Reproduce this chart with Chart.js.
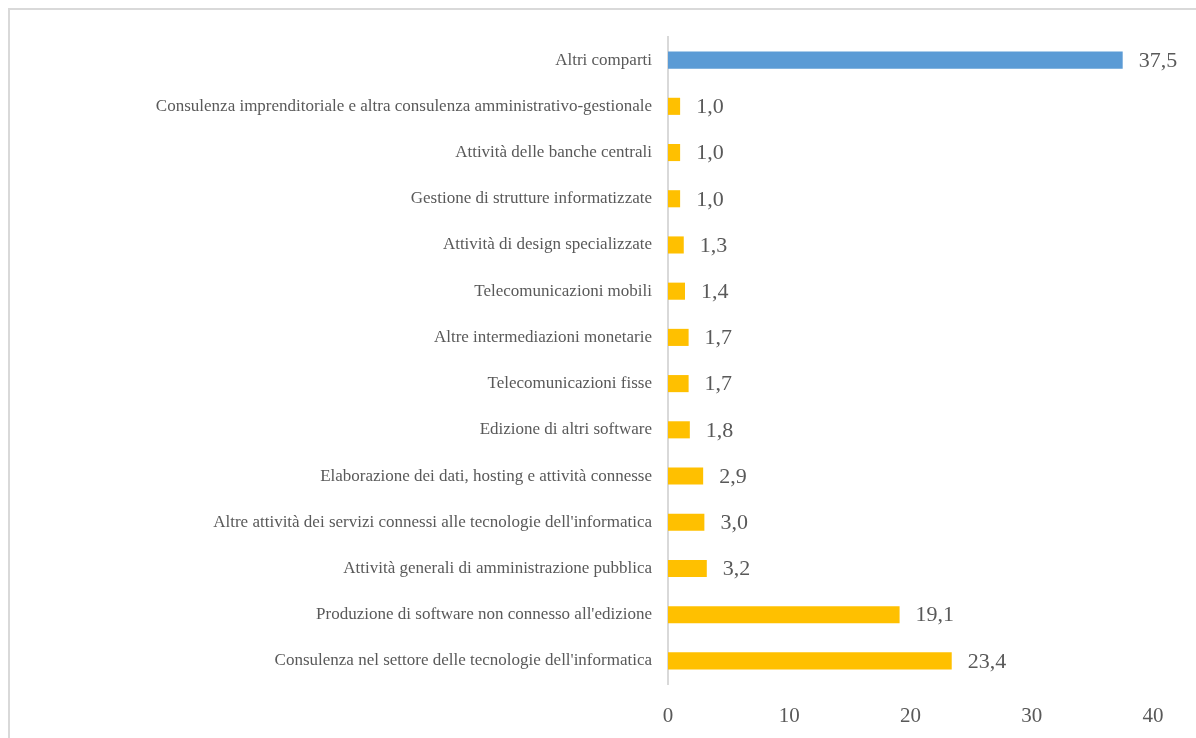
<!DOCTYPE html>
<html>
<head>
<meta charset="utf-8">
<script src="https://cdn.jsdelivr.net/npm/chart.js@4"></script>
<style>
  html, body { margin: 0; padding: 0; background: #fff; overflow: hidden; }
  #wrap { position: relative; width: 1196px; height: 738px; }
  #cornice {
    position: absolute; left: 8px; top: 8px; width: 1220px; height: 760px;
    border: 2px solid #d9d9d9; box-sizing: border-box;
  }
  canvas { position: absolute; left: 0; top: 0; }
</style>
</head>
<body>
<div id="wrap">
  <div id="cornice"></div>
  <canvas id="grafico" width="1196" height="738"></canvas>
</div>
<script>
const comparti = [
  "Altri comparti",
  "Consulenza imprenditoriale e altra consulenza amministrativo-gestionale",
  "Attività delle banche centrali",
  "Gestione di strutture informatizzate",
  "Attività di design specializzate",
  "Telecomunicazioni mobili",
  "Altre intermediazioni monetarie",
  "Telecomunicazioni fisse",
  "Edizione di altri software",
  "Elaborazione dei dati, hosting e attività connesse",
  "Altre attività dei servizi connessi alle tecnologie dell'informatica",
  "Attività generali di amministrazione pubblica",
  "Produzione di software non connesso all'edizione",
  "Consulenza nel settore delle tecnologie dell'informatica"
];
const quote = [37.5, 1.0, 1.0, 1.0, 1.3, 1.4, 1.7, 1.7, 1.8, 2.9, 3.0, 3.2, 19.1, 23.4];
const tickAsse = [0, 10, 20, 30, 40];

const BLU = "#5b9bd5";
const GIALLO = "#ffc000";
const GRIGIO = "#595959";
const FONT = "'Liberation Serif', 'Times New Roman', serif";

// etichette con il valore a destra di ogni barra
const etichetteValori = {
  id: "etichetteValori",
  afterDatasetsDraw(chart) {
    const ctx = chart.ctx;
    const meta = chart.getDatasetMeta(0);
    ctx.save();
    ctx.font = "22px " + FONT;
    ctx.fillStyle = GRIGIO;
    ctx.textAlign = "left";
    ctx.textBaseline = "middle";
    meta.data.forEach((bar, i) => {
      const testo = quote[i].toFixed(1).replace(".", ",");
      ctx.fillText(testo, bar.x + 16, bar.y + 1);
    });
    ctx.restore();
  }
};

const ctx = document.getElementById("grafico").getContext("2d");
new Chart(ctx, {
  type: "bar",
  data: {
    labels: comparti,
    datasets: [{
      data: quote,
      backgroundColor: quote.map((v, i) => i === 0 ? BLU : GIALLO),
      borderWidth: 0,
      barPercentage: 0.37,
      categoryPercentage: 1
    }]
  },
  options: {
    indexAxis: "y",
    responsive: false,
    animation: false,
    layout: { padding: { top: 37, right: 43, left: 0, bottom: 0 } },
    plugins: {
      legend: { display: false },
      tooltip: { enabled: false }
    },
    scales: {
      x: {
        min: 0,
        max: 40,
        afterBuildTicks: (scale) => { scale.ticks = tickAsse.map(v => ({ value: v })); },
        afterFit: (scale) => { scale.height = 54; },
        grid: { display: false },
        border: { display: false },
        ticks: {
          color: GRIGIO,
          padding: 12,
          font: { family: FONT, size: 21 }
        }
      },
      y: {
        afterFit: (scale) => { scale.width = 668; },
        grid: { display: false },
        border: { display: true, color: "#d9d9d9", width: 2 },
        ticks: {
          color: GRIGIO,
          padding: 8,
          font: { family: FONT, size: 17 }
        }
      }
    }
  },
  plugins: [etichetteValori]
});
</script>
</body>
</html>
